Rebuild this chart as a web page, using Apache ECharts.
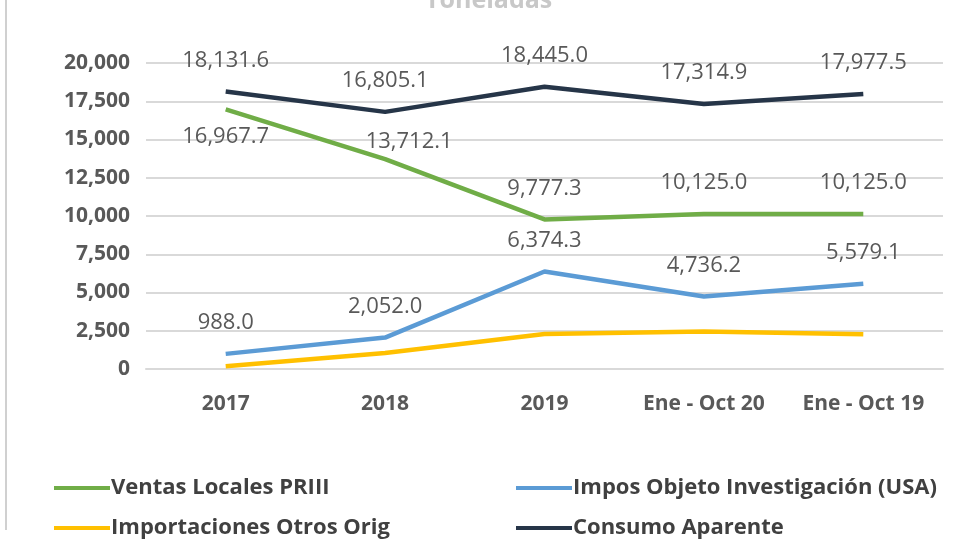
<!DOCTYPE html>
<html>
<head>
<meta charset="utf-8">
<script src="https://cdn.jsdelivr.net/npm/echarts@6/dist/echarts.min.js"></script>
<style>
	html, body { margin: 0; padding: 0; background: #fff; }
	#chart { width: 961px; height: 542px; }
</style>
</head>
<body>
<div id="chart"></div>
<script>
// categorias del eje x
var categorias = ["2017", "2018", "2019", "Ene - Oct 20", "Ene - Oct 19"];
// series (toneladas)
var ventasLocales = [16967.7, 13712.1, 9777.3, 10125.0, 10125.0];
var imposUSA = [988.0, 2052.0, 6374.3, 4736.2, 5579.1];
var importOtros = [175.9, 1041.0, 2293.4, 2453.7, 2273.4];
var consumoAparente = [18131.6, 16805.1, 18445.0, 17314.9, 17977.5];
// marcas del eje y
var ticksY = [0, 2500, 5000, 7500, 10000, 12500, 15000, 17500, 20000];

var fuente = "'Open Sans', 'Liberation Sans', sans-serif";
var gris = "#595959";

function fmt(v) {
	return v.toLocaleString("en-US", { minimumFractionDigits: 1, maximumFractionDigits: 1 });
}

// etiqueta de datos
function etiqueta(pos, dist) {
	return {
		show: true,
		position: pos,
		distance: dist,
		color: gris,
		fontSize: 22,
		fontFamily: fuente,
		formatter: function(p) { return fmt(p.value); }
	};
}

// serie de lineas
function serie(nombre, datos, color, lbl) {
	return {
		name: nombre,
		type: "line",
		data: datos,
		symbol: "circle",
		symbolSize: 0.01,
		showSymbol: true,
		smooth: false,
		lineStyle: { color: color, width: 4.5 },
		itemStyle: { color: color },
		label: lbl,
		z: 3
	};
}

// una leyenda por elemento, en dos columnas
function leyenda(nombre, x, y) {
	return {
		left: x,
		top: y,
		itemWidth: 56,
		itemHeight: 4,
		icon: "rect",
		textStyle: { color: "#404040", fontSize: 22, fontFamily: fuente, fontWeight: "bold", padding: [0, 0, 0, -4] },
		data: [nombre]
	};
}

// ventas: primeras dos etiquetas con posicion distinta
var ventasData = ventasLocales.map(function(v, i) {
	if (i == 0) return { value: v, label: { position: "bottom", distance: 16 } };
	if (i == 1) return { value: v, label: { position: "top", distance: 6, offset: [24, 0] } };
	return v;
});

var myChart = echarts.init(document.getElementById("chart"));
myChart.setOption({
	backgroundColor: "#fff",
	animation: false,
	title: {
		text: "Toneladas",
		left: 420,
		top: -17,
		textStyle: { color: "#c8c8c8", fontSize: 25, fontFamily: fuente, fontWeight: "bold" }
	},
	graphic: [{
		type: "line",
		shape: { x1: 6, y1: 0, x2: 6, y2: 530 },
		style: { stroke: "#d0d0d0", lineWidth: 2 }
	}],
	grid: { left: 146, right: 18, top: 63, bottom: 173 },
	legend: [
		leyenda("Ventas Locales PRIII", 49, 472),
		leyenda("Importaciones Otros Orig", 49, 512),
		leyenda("Impos Objeto Investigación (USA)", 511, 472),
		leyenda("Consumo Aparente", 511, 512)
	],
	xAxis: {
		type: "category",
		data: categorias,
		boundaryGap: true,
		axisLine: { show: true, lineStyle: { color: "#d9d9d9", width: 2 } },
		axisTick: { show: false },
		axisLabel: { interval: 0, color: gris, fontSize: 21, fontWeight: "bold", fontFamily: fuente, margin: 25 }
	},
	yAxis: {
		type: "value",
		min: ticksY[0],
		max: ticksY[ticksY.length - 1],
		interval: 2500,
		axisLine: { show: false },
		axisTick: { show: false },
		splitLine: { lineStyle: { color: "#d9d9d9", width: 2 } },
		axisLabel: {
			color: gris, fontSize: 21, fontWeight: "bold", fontFamily: fuente, margin: 16,
			formatter: function(v) { return v.toLocaleString("en-US"); }
		}
	},
	series: [
		serie("Ventas Locales PRIII", ventasData, "#70ad47", etiqueta("top", 20)),
		serie("Impos Objeto Investigación (USA)", imposUSA, "#5b9bd5", etiqueta("top", 20)),
		serie("Importaciones Otros Orig", importOtros, "#ffc000", { show: false }),
		serie("Consumo Aparente", consumoAparente, "#263548", etiqueta("top", 20))
	]
});
</script>
</body>
</html>
